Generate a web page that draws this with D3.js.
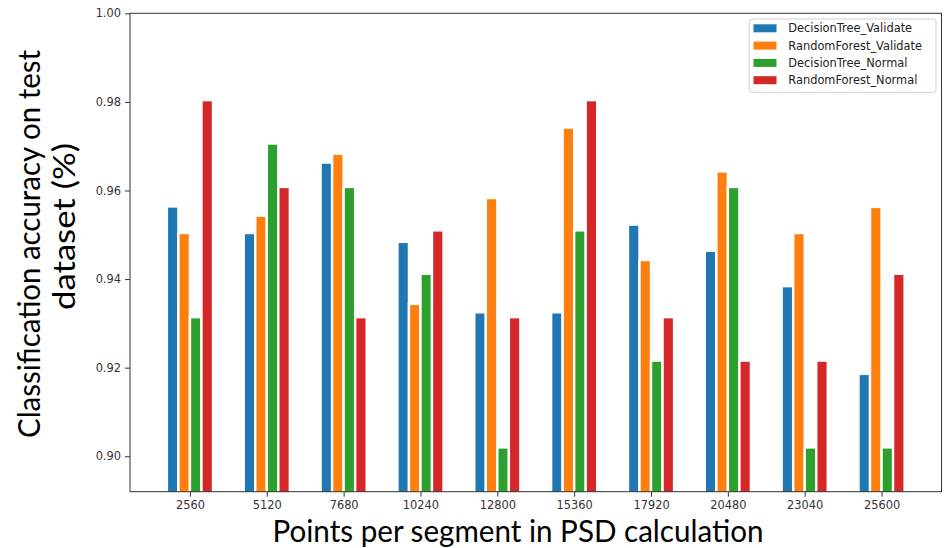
<!DOCTYPE html>
<html>
<head>
<meta charset="utf-8">
<script src="https://cdn.jsdelivr.net/npm/d3@7"></script>
<style>
  body { margin: 0; background: #fff; }
  svg { display: block; }
</style>
</head>
<body>
<div id="chart"></div>
<script>
// Data
const categories = ["2560", "5120", "7680", "10240", "12800", "15360", "17920", "20480", "23040", "25600"];
const seriesNames = ["DecisionTree_Validate", "RandomForest_Validate", "DecisionTree_Normal", "RandomForest_Normal"];
const seriesColors = ["#1f77b4", "#ff7f0e", "#2ca02c", "#d62728"];
const dtValidate = [0.9564, 0.9504, 0.9663, 0.9484, 0.9325, 0.9325, 0.9523, 0.9464, 0.9384, 0.9186];
const rfValidate = [0.9504, 0.9543, 0.9683, 0.9344, 0.9583, 0.9742, 0.9443, 0.9643, 0.9504, 0.9563];
const dtNormal = [0.9314, 0.9706, 0.9608, 0.9412, 0.9020, 0.9510, 0.9216, 0.9608, 0.9020, 0.9020];
const rfNormal = [0.9804, 0.9608, 0.9314, 0.9510, 0.9314, 0.9804, 0.9314, 0.9216, 0.9216, 0.9412];
const yTicks = [0.90, 0.92, 0.94, 0.96, 0.98, 1.00];

const seriesValues = [dtValidate, rfValidate, dtNormal, rfNormal];

// Dimensions
const width = 944, height = 548;
const plot = { left: 130, right: 941.5, top: 13.3, bottom: 491.7 };
const barW = 0.15;

const svg = d3.select("#chart")
  .append("svg")
  .attr("width", width)
  .attr("height", height);

const x = d3.scaleLinear()
  .domain([-0.78, categories.length - 1 + 0.78])
  .range([plot.left, plot.right]);

const y = d3.scaleLinear()
  .domain([0.892, 1.0])
  .range([plot.bottom, plot.top]);

// Bars
svg.append("clipPath").attr("id", "clip")
  .append("rect")
  .attr("x", plot.left).attr("y", plot.top)
  .attr("width", plot.right - plot.left).attr("height", plot.bottom - plot.top);

const barsG = svg.append("g").attr("clip-path", "url(#clip)");
seriesValues.forEach((vals, j) => {
  const offset = (j - 1.5) * barW;
  barsG.selectAll(null)
    .data(vals)
    .join("rect")
    .attr("x", (d, i) => x(i + offset - barW / 2))
    .attr("width", x(barW) - x(0))
    .attr("y", d => y(d))
    .attr("height", d => y(0.892) - y(d) + 3)
    .attr("fill", seriesColors[j])
    .attr("stroke", "#fff")
    .attr("stroke-width", 2.4);
});

// Axes
const yAxis = d3.axisLeft(y)
  .tickValues(yTicks)
  .tickFormat(d3.format(".2f"))
  .tickSizeOuter(0)
  .tickSize(5)
  .tickPadding(4);

const xAxis = d3.axisBottom(x)
  .tickValues(d3.range(categories.length))
  .tickFormat(i => categories[i])
  .tickSizeOuter(0)
  .tickSize(5)
  .tickPadding(4);

const gy = svg.append("g")
  .attr("transform", `translate(${plot.left},0)`)
  .call(yAxis);
const gx = svg.append("g")
  .attr("transform", `translate(0,${plot.bottom})`)
  .call(xAxis);

[gx, gy].forEach(g => {
  g.select(".domain").remove();
  g.selectAll(".tick line").attr("stroke", "#333");
  g.selectAll(".tick text")
    .attr("fill", "#333")
    .style("font-family", "'DejaVu Sans', sans-serif")
    .style("font-size", "11.4px");
});

// Frame
svg.append("rect")
  .attr("x", plot.left).attr("y", plot.top)
  .attr("width", plot.right - plot.left)
  .attr("height", plot.bottom - plot.top)
  .attr("fill", "none")
  .attr("stroke", "#333")
  .attr("stroke-width", 1);

// Legend
const legend = svg.append("g");
legend.append("rect")
  .attr("x", 749.3).attr("y", 19)
  .attr("width", 186.7).attr("height", 73.3)
  .attr("rx", 3)
  .attr("fill", "#fff").attr("fill-opacity", 0.8)
  .attr("stroke", "#d0d0d0");

seriesNames.forEach((name, j) => {
  const cy = 28.3 + j * 17.3;
  legend.append("rect")
    .attr("x", 753.5).attr("y", cy - 4)
    .attr("width", 23).attr("height", 8)
    .attr("fill", seriesColors[j]);
  legend.append("text")
    .attr("x", 788.3).attr("y", cy)
    .attr("dominant-baseline", "central")
    .attr("fill", "#222")
    .style("font-family", "'DejaVu Sans', sans-serif")
    .style("font-size", "11.4px")
    .text(name);
});

// Axis titles
svg.append("text")
  .attr("x", 518).attr("y", 542)
  .attr("text-anchor", "middle")
  .attr("textLength", 491)
  .attr("lengthAdjust", "spacingAndGlyphs")
  .style("font-family", "Lato, sans-serif")
  .style("font-size", "31px")
  .attr("fill", "#000")
  .text("Points per segment in PSD calculation");

svg.append("text")
  .attr("transform", "translate(40,244) rotate(-90)")
  .attr("text-anchor", "middle")
  .attr("textLength", 388)
  .attr("lengthAdjust", "spacingAndGlyphs")
  .style("font-family", "Lato, sans-serif")
  .style("font-size", "31px")
  .attr("fill", "#000")
  .text("Classification accuracy on test");

svg.append("text")
  .attr("transform", "translate(75,226.5) rotate(-90)")
  .attr("text-anchor", "middle")
  .attr("textLength", 167)
  .attr("lengthAdjust", "spacingAndGlyphs")
  .style("font-family", "Lato, sans-serif")
  .style("font-size", "31px")
  .attr("fill", "#000")
  .text("dataset (%)");
</script>
</body>
</html>
